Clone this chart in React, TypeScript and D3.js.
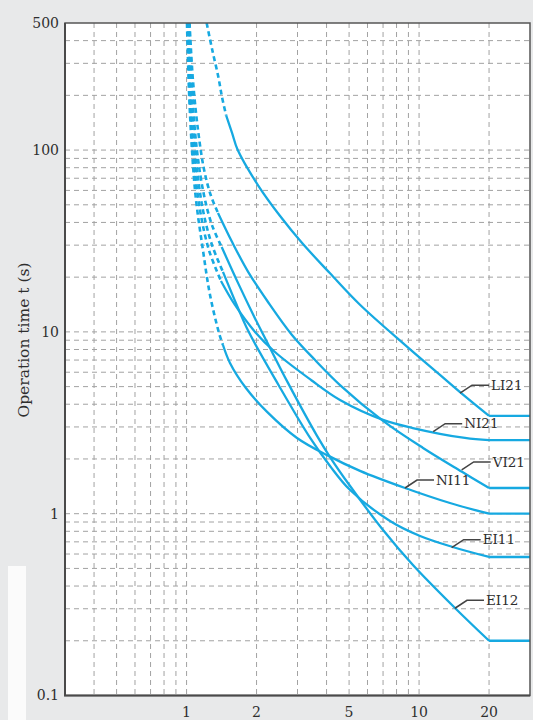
import { useEffect, useRef } from "react";
import * as d3 from "d3";

const W = 533;
const H = 720;

// axis ticks (current multiple M, operation time t in s)
const xTickValues = [1, 2, 5, 10, 20];
const yTickValues = [0.1, 1, 10, 100, 500];
const xGridValues = [0.4, 0.5, 0.6, 0.7, 0.8, 0.9, 1, 2, 3, 4, 5, 6, 7, 8, 9, 10, 20];
const yGridValues = [
  0.2, 0.3, 0.4, 0.5, 0.6, 0.7, 0.8, 0.9,
  1, 2, 3, 4, 5, 6, 7, 8, 9,
  10, 20, 30, 40, 50, 60, 70, 80, 90,
  100, 200, 300, 400,
];

// LI21
const li21DashM = [1.22, 1.29, 1.37, 1.42, 1.48];
const li21DashT = [500, 355, 252, 196, 155];
const li21M = [1.48, 1.57, 1.66, 2.03, 2.52, 3.14, 4.14, 5.57, 8.87, 12.3, 15.5, 20];
const li21T = [155, 124, 100, 64, 43.5, 30.8, 21, 14.1, 8.3, 5.8, 4.5, 3.45];

// VI21
const vi21DashM = [1.03, 1.065, 1.12, 1.19, 1.27, 1.365];
const vi21DashT = [500, 243, 129, 77.7, 56.6, 45.1];
const vi21M = [1.365, 1.57, 1.84, 2.24, 2.84, 3.57, 4.57, 7.0, 10.4, 15.3, 20];
const vi21T = [45.1, 31.2, 21.4, 14.6, 9.62, 7.0, 5.1, 3.24, 2.3, 1.7, 1.385];

// NI21
const ni21DashM = [1.014, 1.034, 1.076, 1.142, 1.248, 1.406];
const ni21DashT = [500, 189, 88, 46.8, 28.2, 19.05];
const ni21M = [1.406, 1.615, 1.97, 2.4, 3.43, 4.57, 7.0, 9.4, 15.75, 20];
const ni21T = [19.05, 14.06, 10.0, 7.75, 5.44, 4.22, 3.28, 2.96, 2.61, 2.54];

// NI11
const ni11DashM = [1.004, 1.024, 1.055, 1.098, 1.176, 1.261, 1.379, 1.434];
const ni11DashT = [500, 214, 100, 53.2, 28.2, 16, 9.86, 8.47];
const ni11M = [1.434, 1.537, 1.8, 2.22, 2.985, 4.02, 5.57, 8.7, 13.58, 20];
const ni11T = [8.47, 6.75, 4.91, 3.63, 2.61, 2.1, 1.72, 1.385, 1.145, 1.0];

// EI11
const ei11DashM = [1.014, 1.044, 1.098, 1.176, 1.286, 1.434];
const ei11DashT = [500, 189, 88, 46.8, 30.1, 21.4];
const ei11M = [1.434, 1.631, 1.836, 2.5, 3.4, 4.14, 5.05, 7.5, 10.1, 13.95, 20];
const ei11T = [21.4, 14.4, 10.2, 5.04, 2.61, 1.83, 1.35, 0.912, 0.754, 0.656, 0.578];

// EI12
const ei12DashM = [1.024, 1.055, 1.108, 1.188, 1.286, 1.416];
const ei12DashT = [500, 214, 100, 56.6, 38.7, 29.3];
const ei12M = [1.416, 1.664, 1.968, 2.174, 2.73, 3.64, 4.14, 5.05, 7.0, 9.41, 14.27, 20];
const ei12T = [29.3, 18.6, 11.9, 9.26, 5.24, 2.68, 2.05, 1.42, 0.813, 0.522, 0.303, 0.2];

// curve labels, anchored on the curve
const labelNames = ["LI21", "NI21", "VI21", "NI11", "EI11", "EI12"];
const labelM = [15.0, 11.5, 15.25, 8.7, 13.81, 14.27];
const labelT = [4.6, 2.825, 1.74, 1.385, 0.65, 0.302];

const curves = [
  { dashM: li21DashM, dashT: li21DashT, m: li21M, t: li21T },
  { dashM: vi21DashM, dashT: vi21DashT, m: vi21M, t: vi21T },
  { dashM: ni21DashM, dashT: ni21DashT, m: ni21M, t: ni21T },
  { dashM: ni11DashM, dashT: ni11DashT, m: ni11M, t: ni11T },
  { dashM: ei11DashM, dashT: ei11DashT, m: ei11M, t: ei11T },
  { dashM: ei12DashM, dashT: ei12DashT, m: ei12M, t: ei12T },
];

const blue = "#16a9e1";
const serif = "'DejaVu Serif', 'Liberation Serif', serif";

const App = () => {
  const ref = useRef<SVGSVGElement>(null);

  useEffect(() => {
    const svg = d3.select(ref.current);
    svg.selectAll("*").remove();

    const x = d3.scaleLog().domain([0.3, 30]).range([65, 530]);
    const y = d3.scaleLog().domain([0.1, 500]).range([695.5, 23]);
    const [x0, x1] = x.range();
    const [y0, y1] = y.range();

    svg.append("rect").attr("width", W).attr("height", H).attr("fill", "#e8e9ea");
    svg.append("rect").attr("x", 8).attr("y", 566).attr("width", 18).attr("height", H - 566).attr("fill", "#fbfbfb");
    svg.append("rect")
      .attr("x", x0).attr("y", y1)
      .attr("width", x1 - x0).attr("height", y0 - y1)
      .attr("fill", "#ffffff");

    svg.append("clipPath").attr("id", "plot-clip")
      .append("rect")
      .attr("x", x0).attr("y", y1)
      .attr("width", x1 - x0).attr("height", y0 - y1);

    // grid
    const grid = svg.append("g")
      .attr("stroke", "#a2a2a2")
      .attr("stroke-width", 1)
      .attr("stroke-dasharray", "5,4");
    grid.selectAll("line.v").data(xGridValues).join("line")
      .attr("class", "v")
      .attr("x1", d => x(d)).attr("x2", d => x(d))
      .attr("y1", y1).attr("y2", y0);
    grid.selectAll("line.h").data(yGridValues).join("line")
      .attr("class", "h")
      .attr("x1", x0).attr("x2", x1)
      .attr("y1", d => y(d)).attr("y2", d => y(d));

    // curves
    const line = d3.line<[number, number]>()
      .x(d => x(d[0]))
      .y(d => y(d[1]))
      .curve(d3.curveCatmullRom.alpha(0.5));
    const flat = d3.line<[number, number]>()
      .x(d => x(d[0]))
      .y(d => y(d[1]));

    const cg = svg.append("g")
      .attr("clip-path", "url(#plot-clip)")
      .attr("fill", "none")
      .attr("stroke", blue);

    curves.forEach(c => {
      const dash = c.dashM.map((m, i) => [m, c.dashT[i]] as [number, number]);
      const solid = c.m.map((m, i) => [m, c.t[i]] as [number, number]);
      const last = solid[solid.length - 1];
      cg.append("path")
        .attr("d", line(dash))
        .attr("stroke-width", 2.6)
        .attr("stroke-dasharray", "5,3.5");
      cg.append("path")
        .attr("d", line(solid))
        .attr("stroke-width", 2.3);
      cg.append("path")
        .attr("d", flat([last, [x.domain()[1], last[1]]]))
        .attr("stroke-width", 2.3);
    });

    // frame
    svg.append("rect")
      .attr("x", x0).attr("y", y1)
      .attr("width", x1 - x0).attr("height", y0 - y1)
      .attr("fill", "none")
      .attr("stroke", "#555")
      .attr("stroke-width", 1.5);
    svg.append("path")
      .attr("d", `M${x0},${y1}V${y0}H${x1}`)
      .attr("fill", "none")
      .attr("stroke", "#4a4a4a")
      .attr("stroke-width", 2);

    // tick labels
    svg.append("g").selectAll("text").data(yTickValues).join("text")
      .attr("x", 59)
      .attr("y", d => y(d))
      .attr("dy", "0.35em")
      .attr("text-anchor", "end")
      .attr("font-family", serif)
      .attr("font-size", 14)
      .attr("fill", "#2e2e2e")
      .text(d => String(d));
    svg.append("g").selectAll("text").data(xTickValues).join("text")
      .attr("x", d => x(d))
      .attr("y", 712)
      .attr("dy", "0.35em")
      .attr("text-anchor", "middle")
      .attr("font-family", serif)
      .attr("font-size", 14)
      .attr("fill", "#2e2e2e")
      .text(d => String(d));

    svg.append("text")
      .attr("transform", `translate(29,340) rotate(-90)`)
      .attr("text-anchor", "middle")
      .attr("font-family", serif)
      .attr("font-size", 15.5)
      .attr("fill", "#2e2e2e")
      .text("Operation time t (s)");

    // labels with leaders
    const lg = svg.append("g");
    labelNames.forEach((name, i) => {
      const ax = x(labelM[i]);
      const ay = y(labelT[i]);
      lg.append("path")
        .attr("d", `M${ax},${ay}L${ax + 12},${ay - 8}H${ax + 29}`)
        .attr("fill", "none")
        .attr("stroke", "#444")
        .attr("stroke-width", 1.6);
      lg.append("text")
        .attr("x", ax + 31)
        .attr("y", ay - 8)
        .attr("dy", "0.35em")
        .attr("font-family", serif)
        .attr("font-size", 13.5)
        .attr("fill", "#2e2e2e")
        .text(name);
    });
  }, []);

  return (
    <svg
      ref={ref}
      width={W}
      height={H}
      style={{ position: "absolute", left: 0, top: 0 }}
    />
  );
};

export default App;
